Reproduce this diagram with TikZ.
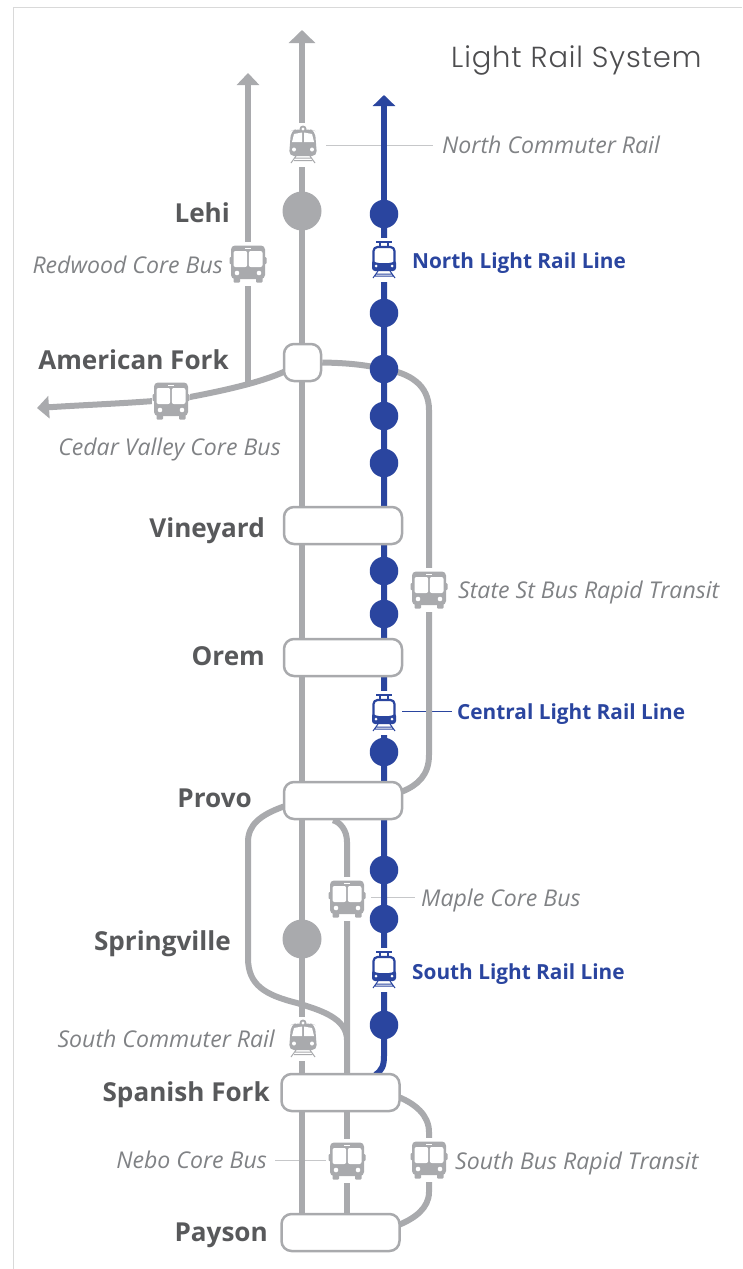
\documentclass[tikz,border=0pt]{standalone}
\usepackage{fontspec}
\setmainfont{Open Sans}
\newfontfamily\titlefont[LetterSpace=3]{Poppins Light}
\definecolor{railgray}{HTML}{A9AAAD}
\definecolor{railblue}{HTML}{2A459F}
\definecolor{namegray}{HTML}{58595B}
\definecolor{titlegray}{HTML}{4D4D4F}
\definecolor{notegray}{HTML}{808285}
\definecolor{leadgray}{HTML}{C6C7C9}
\definecolor{framegray}{HTML}{D9D9D9}
\usetikzlibrary{arrows.meta,backgrounds,calc}
\tikzset{
  rail/.style={draw=railgray,line width=6.5pt},
  feeder/.style={draw=railgray,line width=6pt},
  bluerail/.style={draw=railblue,line width=6pt},
  lead/.style={draw=leadgray,line width=1pt},
  bigstop/.style={circle,fill=railgray,minimum size=39pt,inner sep=0pt},
  stop/.style={circle,fill=railblue,minimum size=28.5pt,inner sep=0pt},
  hub/.style={draw=railgray,fill=white,line width=2.5pt,rounded corners=10pt,minimum height=37pt,inner sep=0pt},
  stationname/.style={font=\bfseries\fontsize{26.1}{28}\selectfont,text=namegray,inner sep=0pt},
  routename/.style={font=\itshape\fontsize{23.1}{26}\selectfont,text=notegray,inner sep=0pt},
  bluename/.style={font=\bfseries\fontsize{20.8}{24}\selectfont,text=railblue,inner sep=0pt},
  bushalo/.style={fill=white,inner sep=0pt,minimum width=38pt,minimum height=44pt},
  trainhalo/.style={fill=white,inner sep=0pt,minimum width=30pt,minimum height=44pt},
  bus/.pic={
    \fill[railgray,rounded corners=4pt] (-17,-18.5) rectangle (17,15);
    \fill[railgray,rounded corners=1pt] (-18.5,-7) rectangle (18.5,0);
    \fill[railgray,rounded corners=1pt] (-14.5,13) rectangle (-8,18.5);
    \fill[railgray,rounded corners=1pt] (14.5,13) rectangle (8,18.5);
    \fill[white,rounded corners=2pt] (-14.5,-13) rectangle (-.8,3);
    \fill[white,rounded corners=2pt] (14.5,-13) rectangle (.8,3);
    \fill[white] (-3,-16.5) rectangle (3,-14.6);
    \fill[white] (-11,9) circle (2.3);
    \fill[white] (11,9) circle (2.3);
  },
  commuter/.pic={
    \fill[railgray,rounded corners=5pt] (-12,-14) -- (-8,-15.5) -- (8,-15.5) -- (12,-14) -- (14,11) -- (-14,11) -- cycle;
    \fill[railgray] (0,-16) circle (3.5);
    \fill[white] (0,-16) circle (1.6);
    \fill[white] (-9,-11) -- (-1,-12.5) -- (-1,-3) -- (-11,-3) -- cycle;
    \fill[white] (9,-11) -- (1,-12.5) -- (1,-3) -- (11,-3) -- cycle;
    \fill[white] (-9,4.5) circle (2);
    \fill[white] (9,4.5) circle (2);
    \draw[railgray,line width=1pt] (-8,13) -- (8,13) (-9,15.5) -- (9,15.5) (-7,11) -- (-12,18) (7,11) -- (12,18);
  },
  lightrail/.pic={
    \draw[railblue,line width=1.2pt] (-8,-18) -- (8,-18) (-4,-18) -- (-4,-13) (4,-18) -- (4,-13);
    \fill[white,draw=railblue,line width=2.2pt,rounded corners=4pt] (-10.5,-13) rectangle (10.5,8);
    \fill[railblue,rounded corners=3pt] (-12,0) -- (-8,3) -- (8,3) -- (12,0) -- (12,11) -- (-12,11) -- cycle;
    \fill[white] (-8,6) circle (1.5);
    \fill[white] (8,6) circle (1.5);
    \draw[railblue,line width=1pt] (-8,14) -- (8,14) (-9,16) -- (9,16) (-6,11) -- (-11,18) (6,11) -- (11,18);
  }
}
\begin{document}
\begin{tikzpicture}[x=1pt,y=-1pt]
\useasboundingbox (0,0) rectangle (742,1269);
\draw[framegray,line width=1pt] (742,7.5) -- (13.5,7.5) -- (13.5,1269);

% free ends of the lines
\coordinate (tipA) at (302,30);
\coordinate (tipB) at (248,73);
\coordinate (tipC) at (384,95);
\coordinate (tipD) at (37,408);
\coordinate (forkB) at (248,384);

% station boxes
\node[hub,minimum width=37pt] (amfork) at (302.5,362.5) {};
\node[hub,minimum width=118pt] (vineyard) at (343,525.5) {};
\node[hub,minimum width=118pt] (orem) at (343,657.5) {};
\node[hub,minimum width=118pt] (provo) at (343,800.5) {};
\node[hub,minimum width=118pt] (spanish) at (340.5,1092.5) {};
\node[hub,minimum width=118pt] (payson) at (340.5,1232.5) {};

% stops on the grey line
\node[bigstop] (lehi) at (302,211) {};
\node[bigstop] (springville) at (302,939) {};

% stops on the blue line
\foreach \n/\y in {s1/214,s2/313,s3/369,s4/416,s5/463,s6/571,s7/614,s8/752,s9/870,s10/919,s11/1025}
  \node[stop] (\n) at (384,\y) {};

% icons
\node[bushalo] (redwoodbus) at (248,264) {};
\pic at (redwoodbus) {bus};
\node[bushalo] (cedarbus) at (171,401) {};
\pic at (cedarbus) {bus};
\node[bushalo] (statebus) at (429,590) {};
\pic at (statebus) {bus};
\node[bushalo] (maplebus) at (347,899) {};
\pic at (maplebus) {bus};
\node[bushalo] (nebobus) at (347,1161) {};
\pic at (nebobus) {bus};
\node[bushalo] (southbus) at (429,1160) {};
\pic at (southbus) {bus};
\node[trainhalo] (northtrain) at (303,145) {};
\pic at (northtrain) {commuter};
\node[trainhalo] (southtrain) at (303,1039) {};
\pic at (southtrain) {commuter};
\node[trainhalo] (northlrt) at (384,260) {};
\pic at (northlrt) {lightrail};
\node[trainhalo] (centrallrt) at (384,713) {};
\pic at (centrallrt) {lightrail};
\node[trainhalo] (southlrt) at (384,970) {};
\pic at (southlrt) {lightrail};

% labels
\node[font=\titlefont\fontsize{29}{32}\selectfont,text=titlegray,anchor=base west,inner sep=0pt] (title) at (451,67) {Light Rail System};

\node[stationname,anchor=base east] (nlehi) at (230,222) {Lehi};
\node[stationname,anchor=base east] (namfork) at (229,369.5) {American Fork};
\node[stationname,anchor=base east] (nvine) at (265,537) {Vineyard};
\node[stationname,anchor=base east] (norem) at (265,665) {Orem};
\node[stationname,anchor=base east] (nprovo) at (252,807) {Provo};
\node[stationname,anchor=base east] (nspring) at (231,950.5) {Springville};
\node[stationname,anchor=base east] (nspan) at (270,1101) {Spanish Fork};
\node[stationname,anchor=base east] (npay) at (268,1241) {Payson};

\node[routename,anchor=base east] (lredwood) at (223,273) {Redwood Core Bus};
\node[routename,anchor=base east] (lcedar) at (281,455) {Cedar Valley Core Bus};
\node[routename,anchor=base west] (lnorth) at (442,153) {North Commuter Rail};
\node[routename,anchor=base west] (lstate) at (458,598) {State St Bus Rapid Transit};
\node[routename,anchor=base west] (lmaple) at (421,906) {Maple Core Bus};
\node[routename,anchor=base east] (lsouth) at (275,1047) {South Commuter Rail};
\node[routename,anchor=base east] (lnebo) at (267,1168) {Nebo Core Bus};
\node[routename,anchor=base west] (lsbrt) at (455,1169) {South Bus Rapid Transit};

\node[bluename,anchor=base west] (bnorth) at (412,268) {North Light Rail Line};
\node[bluename,anchor=base west] (bcentral) at (457,719) {Central Light Rail Line};
\node[bluename,anchor=base west] (bsouth) at (412,979) {South Light Rail Line};

\begin{scope}[on background layer]
  % thin leaders
  \draw[lead] ($(northtrain.center)+(23,0)$) -- ($(lnorth.base west)+(-9,-8)$);
  \draw[lead] ($(maplebus.east)+(5,-2)$) -- ($(lmaple.base west)+(-6,-9)$);
  \draw[lead] ($(lnebo.base east)+(8,-8)$) -- ($(nebobus.west)+(-2,-1)$);
  \draw[draw=railblue,line width=1pt] ($(centrallrt.east)+(3,-2)$) -- ($(bcentral.base west)+(-5,-8)$);
  % blue line
  \draw[bluerail,-{Triangle[length=11pt,width=22pt]}] (s1.center) -- (tipC);
  \draw[bluerail] (tipC |- s1) -- (384,1056) .. controls (384,1066) and (382,1070) .. ($(spanish.north)+(35,2)$);
  % main grey line
  \draw[rail,-{Triangle[length=13pt,width=26pt]}] (lehi.center) -- (tipA);
  \draw[rail] (tipA |- lehi) -- (tipA |- payson);
  % American Fork branches
  \draw[feeder,-{Triangle[length=12pt,width=22pt]}] (forkB) -- (tipB);
  \draw[feeder,-{Triangle[length=12pt,width=22pt]}] ($(amfork.west)+(2,9)$) .. controls (270,378) and (248,386) .. (190,397) .. controls (160,402) and (100,404) .. (tipD);
  % State St loop
  \draw[feeder] (amfork.east) .. controls (350,363) and (365,365) .. (s3.center) .. controls (410,373) and (429,385) .. (429,410) -- (429,755) .. controls (429,775) and (418,785) .. ($(provo.east)+(-1,-9)$);
  % Provo to Spanish Fork, west loop
  \draw[feeder] ($(provo.west)+(1,6)$) .. controls (260,815) and (248,825) .. (248,842) -- (248,958) .. controls (248,985) and (265,995) .. (297,1003) .. controls (320,1010) and (347,1018) .. (347,1040);
  % Maple and Nebo
  \draw[feeder] ($(provo.south)+(-10,0)$) .. controls (340,822) and (347,830) .. (347,842) -- (347,1090);
  \draw[feeder] (347,1100) -- (347,1225);
  % South Bus Rapid Transit
  \draw[feeder] ($(spanish.east)+(-1,5)$) .. controls (415,1104) and (429,1115) .. (429,1132) -- (429,1192) .. controls (429,1208) and (415,1218) .. ($(payson.east)+(-1,-8)$);
\end{scope}
\end{tikzpicture}
\end{document}
